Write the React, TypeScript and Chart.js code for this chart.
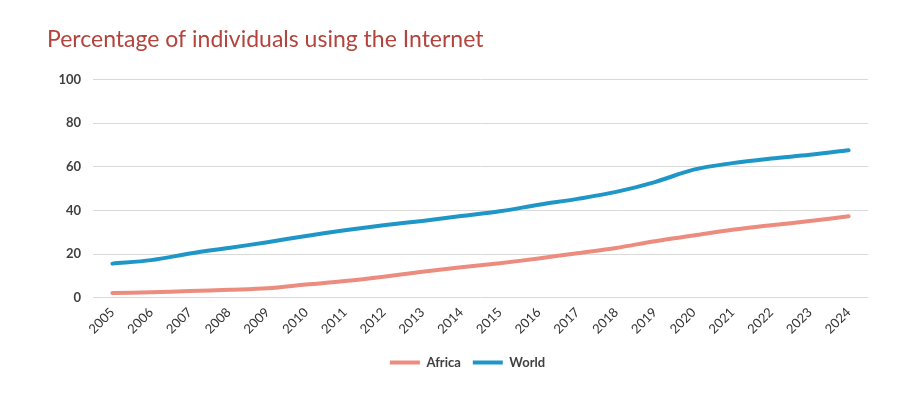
import React, { useEffect, useRef } from "react";
import { Chart, registerables } from "chart.js";

Chart.register(...registerables);

const years = ["2005","2006","2007","2008","2009","2010","2011","2012","2013","2014","2015","2016","2017","2018","2019","2020","2021","2022","2023","2024"];
const africa = [2.1, 2.5, 3.0, 3.6, 4.3, 6.0, 7.6, 9.6, 11.9, 13.9, 15.8, 18.0, 20.4, 22.8, 25.9, 28.5, 31.1, 33.2, 35.1, 37.3];
const world = [15.6, 17.2, 20.2, 22.8, 25.4, 28.3, 30.9, 33.2, 35.2, 37.4, 39.6, 42.6, 45.3, 48.5, 53.0, 58.7, 61.7, 63.8, 65.5, 67.6];
const yTicks = [0, 20, 40, 60, 80, 100];
const title = "Percentage of individuals using the Internet";

const legendShift = {
  id: "legendShift",
  afterLayout(chart: any) {
    const lg = chart.legend;
    if (lg) {
      lg.left += 10;
      lg.right += 10;
    }
  },
};

export default function App() {
  const ref = useRef<HTMLCanvasElement | null>(null);
  useEffect(() => {
    if (!ref.current) return;
    const chart = new Chart(ref.current, {
      type: "line",
      data: {
        labels: years,
        datasets: [
          {
            label: "Africa",
            data: africa,
            borderColor: "#EC8C7E",
            backgroundColor: "#EC8C7E",
            borderWidth: 4,
            borderCapStyle: "round",
            pointRadius: 0,
            tension: 0.35,
          },
          {
            label: "World",
            data: world,
            borderColor: "#1F96C8",
            backgroundColor: "#1F96C8",
            borderWidth: 4,
            borderCapStyle: "round",
            pointRadius: 0,
            tension: 0.35,
          },
        ],
      },
      plugins: [legendShift],
      options: {
        animation: false,
        responsive: false,
        maintainAspectRatio: false,
        layout: { padding: { left: 47, right: 37, top: 26, bottom: 14 } },
        plugins: {
          title: {
            display: true,
            text: title,
            align: "start",
            color: "#B3433C",
            font: { family: "Lato", size: 23, weight: "normal" },
            padding: { top: 0, bottom: 26 },
          },
          legend: {
            position: "bottom",
            labels: {
              usePointStyle: true,
              pointStyle: "line",
              pointStyleWidth: 30,
              boxWidth: 30,
              boxHeight: 4,
              color: "#404040",
              font: { family: "Lato", size: 13, weight: "bold" },
              padding: 12,
            },
          },
          tooltip: { enabled: false },
        },
        scales: {
          x: {
            offset: true,
            grid: { display: false, drawTicks: false },
            border: { display: false },
            ticks: {
              minRotation: 45,
              maxRotation: 45,
              color: "#333333",
              font: { family: "Lato", size: 13, weight: "normal" },
              padding: 7,
            },
          },
          y: {
            min: 0,
            max: 100,
            afterBuildTicks: (scale: any) => {
              scale.ticks = yTicks.map((v) => ({ value: v }));
            },
            afterFit: (scale: any) => {
              scale.width = 46;
            },
            grid: { color: "#D9D9D9", lineWidth: 1, drawTicks: false },
            border: { display: false },
            ticks: {
              color: "#404040",
              font: { family: "Lato", size: 13, weight: "bold" },
              padding: 12,
            },
          },
        },
      },
    });
    return () => chart.destroy();
  }, []);
  return (
    <div style={{ position: "absolute", left: 0, top: 0, width: 905, height: 393, background: "#fff" }}>
      <canvas ref={ref} width={905} height={393} style={{ display: "block" }} />
    </div>
  );
}
